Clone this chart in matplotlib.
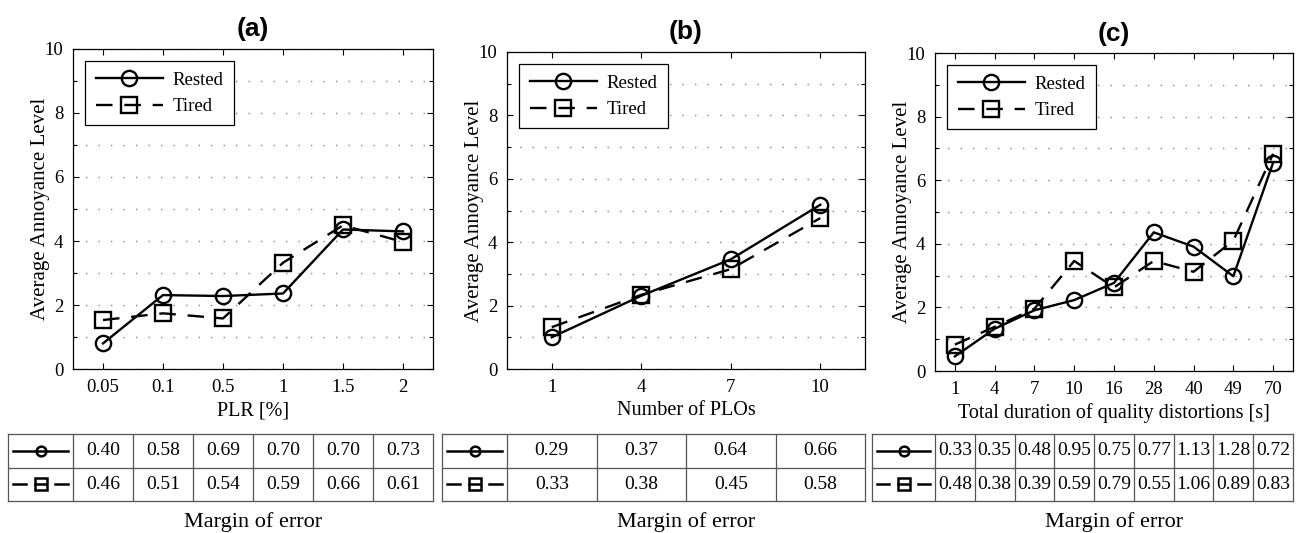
import numpy as np
import matplotlib.pyplot as plt
from matplotlib.ticker import MultipleLocator

plt.rcParams['font.family'] = ['Liberation Serif', 'DejaVu Serif']

W, H = 1298, 533

# panel (a)
plr_labels = ['0.05', '0.1', '0.5', '1', '1.5', '2']
plr_rested = [0.80, 2.31, 2.28, 2.36, 4.36, 4.30]
plr_tired = [1.53, 1.74, 1.58, 3.32, 4.49, 3.97]
plr_moe_rested = ['0.40', '0.58', '0.69', '0.70', '0.70', '0.73']
plr_moe_tired = ['0.46', '0.51', '0.54', '0.59', '0.66', '0.61']

# panel (b)
plo_labels = ['1', '4', '7', '10']
plo_rested = [1.00, 2.31, 3.46, 5.18]
plo_tired = [1.32, 2.34, 3.15, 4.76]
plo_moe_rested = ['0.29', '0.37', '0.64', '0.66']
plo_moe_tired = ['0.33', '0.38', '0.45', '0.58']

# panel (c)
dur_labels = ['1', '4', '7', '10', '16', '28', '40', '49', '70']
dur_rested = [0.46, 1.33, 1.91, 2.23, 2.77, 4.36, 3.91, 2.98, 6.55]
dur_tired = [0.83, 1.39, 1.96, 3.46, 2.63, 3.46, 3.12, 4.10, 6.83]
dur_moe_rested = ['0.33', '0.35', '0.48', '0.95', '0.75', '0.77', '1.13', '1.28', '0.72']
dur_moe_tired = ['0.48', '0.38', '0.39', '0.59', '0.79', '0.55', '1.06', '0.89', '0.83']

panels = [
    ('(a)', 'PLR [%]', plr_labels, plr_rested, plr_tired, plr_moe_rested, plr_moe_tired,
     (73, 433, 49, 369), (8, 434, 501)),
    ('(b)', 'Number of PLOs', plo_labels, plo_rested, plo_tired, plo_moe_rested, plo_moe_tired,
     (507, 865, 52, 369), (442, 434, 501)),
    ('(c)', 'Total duration of quality distortions [s]', dur_labels, dur_rested, dur_tired,
     dur_moe_rested, dur_moe_tired, (935, 1293, 53, 371), (872, 434, 501)),
]

DASH = (0, (7, 5))


def px_box(l, r, t, b):
    return [l / W, 1 - b / H, (r - l) / W, (b - t) / H]


fig = plt.figure(figsize=(W / 100, H / 100), dpi=100)

for title, xlabel, labels, rested, tired, moe_r, moe_t, box, tbox in panels:
    l, r, t, b = box
    n = len(labels)
    x = np.arange(n)
    ax = fig.add_axes(px_box(l, r, t, b))
    ax.plot(x, rested, color='k', lw=1.7, marker='o', ms=11, mfc='none', mew=1.7,
            label='Rested')
    ax.plot(x, tired, color='k', lw=1.7, ls=DASH, marker='s', ms=11, mfc='none', mew=1.7,
            label='Tired')
    ax.set_xlim(-0.5, n - 0.5)
    ax.set_ylim(0, 10)
    ax.set_xticks(x)
    ax.set_xticklabels(labels)
    ax.yaxis.set_major_locator(MultipleLocator(2))
    ax.yaxis.set_minor_locator(MultipleLocator(1))
    ax.yaxis.grid(True, which='both', ls=(0, (1, 8)), color='#888888', lw=1.0)
    ax.set_axisbelow(True)
    ax.tick_params(which='both', direction='in', top=True, right=True, labelsize=13.5,
                   width=0.8, pad=7)
    ax.tick_params(which='major', length=4)
    ax.tick_params(which='minor', length=3)
    for s in ax.spines.values():
        s.set_linewidth(0.9)
    ax.set_ylabel('Average Annoyance Level', fontsize=15)
    ax.yaxis.set_label_coords(-0.065, 0.5)
    ax.set_xlabel(xlabel, fontsize=14.5, labelpad=4)
    ax.set_title(title, fontsize=19, fontweight='bold', family='Liberation Sans', pad=9)
    leg = ax.legend(loc='upper left', fontsize=13.5, handlelength=3.6, frameon=True,
                    fancybox=False, edgecolor='k', framealpha=1, borderpad=0.55,
                    labelspacing=0.5, handletextpad=0.5, borderaxespad=0.65)
    leg.get_frame().set_linewidth(0.9)

    # margin of error table
    tl, tt, tb = tbox
    unit = (r - l) / n
    w_leg = (l - tl) / unit
    tax = fig.add_axes(px_box(tl, r, tt, tb))
    tax.set_xlim(-0.5 - w_leg, n - 0.5)
    tax.set_ylim(0, 2)
    tax.set_xticks([])
    tax.set_yticks([])
    for s in tax.spines.values():
        s.set_linewidth(0.9)
        s.set_color('#555555')
    tax.axhline(1, color='#555555', lw=0.9)
    for xi in np.arange(n) - 0.5:
        tax.axvline(xi, color='#555555', lw=0.9)
    for i in range(n):
        tax.text(i, 1.5, moe_r[i], ha='center', va='center', fontsize=14)
        tax.text(i, 0.5, moe_t[i], ha='center', va='center', fontsize=14)
    x0 = -0.5 - w_leg
    xs = [x0 + 0.08 * w_leg, x0 + 0.5 * w_leg, x0 + 0.92 * w_leg]
    tax.plot(xs, [1.5] * 3, color='k', lw=1.8, marker='o', ms=7, mfc='none', mew=1.8,
             markevery=[1])
    tax.plot([xs[0], x0 + 0.27 * w_leg], [0.5, 0.5], color='k', lw=1.8)
    tax.plot([x0 + 0.73 * w_leg, xs[2]], [0.5, 0.5], color='k', lw=1.8)
    tax.plot([xs[1]], [0.5], color='k', marker='s', ms=8, mfc='none', mew=1.8)
    tax.plot([x0 + 0.42 * w_leg, x0 + 0.58 * w_leg], [0.5, 0.5], color='k', lw=1.8)

    fig.text((l + r) / 2 / W, 1 - 522 / H, 'Margin of error', ha='center', va='center',
             fontsize=16)

fig.savefig('out.png', dpi=100)
